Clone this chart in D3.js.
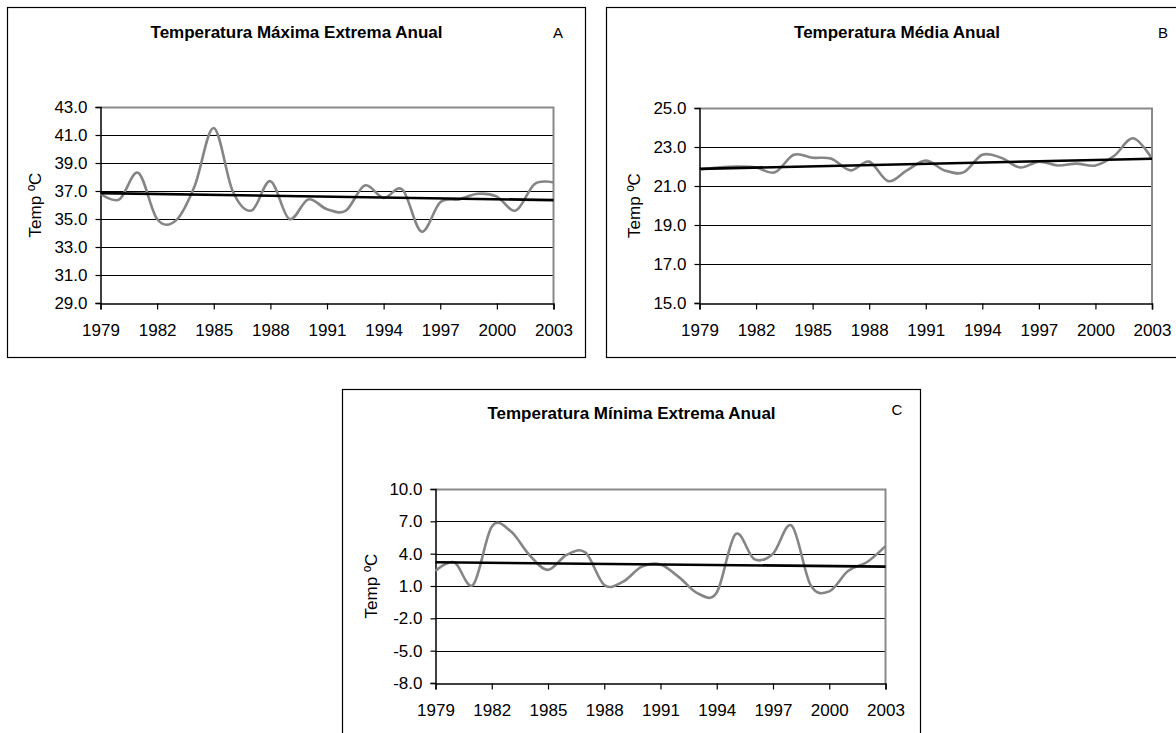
<!DOCTYPE html>
<html>
<head>
<meta charset="utf-8">
<script src="https://cdn.jsdelivr.net/npm/d3@7"></script>
<style>
  html, body { margin: 0; padding: 0; background: #fff; }
  svg { display: block; }
  text { font-family: "Liberation Sans", Arial, sans-serif; }
</style>
</head>
<body>
<svg id="chart" width="1176" height="733"></svg>
<script>
// ---------------- DATA ----------------
const years = [1979,1980,1981,1982,1983,1984,1985,1986,1987,1988,1989,1990,1991,
               1992,1993,1994,1995,1996,1997,1998,1999,2000,2001,2002,2003];
const yearTicks = [1979,1982,1985,1988,1991,1994,1997,2000,2003];

// A - Temperatura Máxima Extrema Anual
const tmaxValues = [36.8,36.4,38.3,35.0,34.9,37.4,41.5,37.0,35.6,37.7,35.0,36.4,35.7,
                    35.6,37.4,36.5,37.1,34.1,36.2,36.4,36.8,36.6,35.6,37.5,37.6];
const tmaxTrend = [36.85, 36.35];
const tmaxTicks = [29,31,33,35,37,39,41,43];

// B - Temperatura Média Anual
const tmedValues = [21.85,21.95,22.0,21.95,21.7,22.6,22.45,22.4,21.8,22.25,21.25,21.8,22.3,
                    21.8,21.7,22.6,22.45,21.95,22.25,22.05,22.15,22.05,22.55,23.45,22.4];
const tmedTrend = [21.88, 22.4];
const tmedTicks = [15,17,19,21,23,25];

// C - Temperatura Mínima Extrema Anual
const tminValues = [2.4,3.2,1.1,6.5,6.1,3.9,2.5,3.9,4.1,1.1,1.4,2.8,3.0,
                    1.8,0.3,0.4,5.8,3.5,4.0,6.6,1.1,0.5,2.4,3.2,4.7];
const tminTrend = [3.2, 2.8];
const tminTicks = [-8,-5,-2,1,4,7,10];

const titles = ["Temperatura Máxima Extrema Anual", "Temperatura Média Anual", "Temperatura Mínima Extrema Anual"];
const panelLetters = ["A", "B", "C"];
const yAxisTitle = "Temp ºC";

// ---------------- LAYOUT ----------------
const panels = [
  { values: tmaxValues, trend: tmaxTrend, ticks: tmaxTicks, title: titles[0], letter: panelLetters[0],
    box: {x: 7.5, y: 7.5, w: 578, h: 350},
    plot: {x: 100.5, y: 107, w: 453, h: 196},
    titleY: 38, letterX: 558, letterY: 38, yTitleX: 35 },
  { values: tmedValues, trend: tmedTrend, ticks: tmedTicks, title: titles[1], letter: panelLetters[1],
    box: {x: 606.5, y: 7.5, w: 581, h: 350},
    plot: {x: 699.5, y: 108, w: 452.5, h: 195},
    titleY: 38, letterX: 1163, letterY: 38, yTitleX: 634 },
  { values: tminValues, trend: tminTrend, ticks: tminTicks, title: titles[2], letter: panelLetters[2],
    box: {x: 342.5, y: 389.5, w: 578, h: 360},
    plot: {x: 435.5, y: 489, w: 450, h: 194},
    titleY: 419, letterX: 897, letterY: 415, yTitleX: 371 }
];

const svg = d3.select("#chart");
const fmt = d => d.toFixed(1);

panels.forEach(p => {
  const g = svg.append("g");

  // outer frame
  g.append("rect")
    .attr("x", p.box.x).attr("y", p.box.y)
    .attr("width", p.box.w).attr("height", p.box.h)
    .attr("fill", "#fff").attr("stroke", "#000").attr("stroke-width", 1.2);

  const x = d3.scaleLinear().domain([years[0], years[years.length - 1]])
              .range([p.plot.x, p.plot.x + p.plot.w]);
  const y = d3.scaleLinear().domain([d3.min(p.ticks), d3.max(p.ticks)])
              .range([p.plot.y + p.plot.h, p.plot.y]);

  // gridlines (interior)
  g.append("g").selectAll("line")
    .data(p.ticks.slice(1, -1))
    .join("line")
    .attr("x1", p.plot.x).attr("x2", p.plot.x + p.plot.w)
    .attr("y1", d => Math.round(y(d)) + 0.5).attr("y2", d => Math.round(y(d)) + 0.5)
    .attr("stroke", "#000").attr("stroke-width", 1);

  // plot-area border top & right (gray)
  const topY = Math.round(y(d3.max(p.ticks))) + 0.5;
  g.append("path")
    .attr("d", `M${p.plot.x},${topY}H${p.plot.x + p.plot.w}V${p.plot.y + p.plot.h}`)
    .attr("fill", "none").attr("stroke", "#8a8a8a").attr("stroke-width", 2);

  // axes
  const yAxis = d3.axisLeft(y).tickValues(p.ticks).tickFormat(fmt).tickSize(5).tickPadding(8);
  const xAxis = d3.axisBottom(x).tickValues(yearTicks).tickFormat(d3.format("d")).tickSize(6).tickPadding(14);

  const ya = g.append("g").attr("transform", `translate(${p.plot.x},0)`).call(yAxis);
  const xa = g.append("g").attr("transform", `translate(0,${Math.round(p.plot.y + p.plot.h) + 0.5})`).call(xAxis);
  [ya, xa].forEach(a => {
    a.select(".domain").attr("stroke", "#000").attr("stroke-width", 1.5);
    a.selectAll(".tick line").attr("stroke", "#000").attr("stroke-width", 1.2);
    a.selectAll(".tick text").attr("fill", "#000").style("font-size", "17px")
      .style("font-family", '"Liberation Sans", Arial, sans-serif');
  });

  // data series (smoothed, gray)
  const line = d3.line()
    .x((d, i) => x(years[i]))
    .y(d => y(d))
    .curve(d3.curveCardinal.tension(0));
  g.append("path")
    .datum(p.values)
    .attr("d", line)
    .attr("fill", "none").attr("stroke", "#858585").attr("stroke-width", 2.6)
    .attr("stroke-linejoin", "round");

  // trend line (black)
  g.append("line")
    .attr("x1", x(years[0])).attr("y1", y(p.trend[0]))
    .attr("x2", x(years[years.length - 1])).attr("y2", y(p.trend[1]))
    .attr("stroke", "#000").attr("stroke-width", 2.6);

  // title
  g.append("text")
    .attr("x", p.box.x + p.box.w / 2).attr("y", p.titleY)
    .attr("text-anchor", "middle")
    .style("font-size", "17px").style("font-weight", "bold")
    .text(p.title);

  // panel letter
  g.append("text")
    .attr("x", p.letterX).attr("y", p.letterY)
    .attr("text-anchor", "middle")
    .style("font-size", "15px")
    .text(p.letter);

  // y axis title
  const cy = p.plot.y + p.plot.h / 2;
  g.append("text")
    .attr("transform", `translate(${p.yTitleX},${cy}) rotate(-90)`)
    .attr("text-anchor", "middle").attr("dy", "0.35em")
    .style("font-size", "17px")
    .text(yAxisTitle);
});
</script>
</body>
</html>
